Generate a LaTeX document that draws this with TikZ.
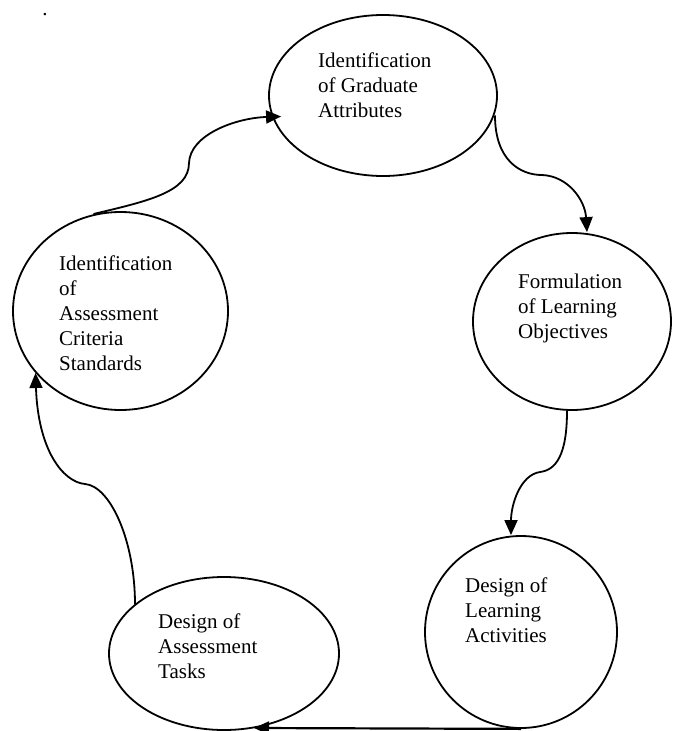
\documentclass[tikz,border=0pt]{standalone}
\usepackage{fontspec}
\setmainfont{Liberation Serif}
\usetikzlibrary{arrows.meta,shapes.geometric}
\begin{document}
\begin{tikzpicture}[x=1pt,y=-1pt,
  stage/.style={draw, ellipse, line width=1.8pt, inner sep=0pt},
  stagetext/.style={anchor=north west, align=left, inner sep=0pt,
    font=\fontsize{21}{25}\selectfont},
  flow/.style={line width=1.8pt, -{Triangle[length=15pt,width=13pt]}}]
\useasboundingbox (0,0) rectangle (673,731);

% the five stages of the cycle
\node[stage, minimum width=228pt, minimum height=161pt] (ga) at (383,95.5) {};
\node[stage, minimum width=215pt, minimum height=198pt] (ac) at (120.5,311) {};
\node[stage, minimum width=198pt, minimum height=177pt] (lo) at (572,321.5) {};
\node[stage, minimum width=192pt, minimum height=192pt] (la) at (521,632) {};
\node[stage, minimum width=230pt, minimum height=153pt] (at) at (224,653.5) {};

% their labels
\node[stagetext] (ga-t) at (318,52.8) {Identification\\of Graduate\\Attributes};
\node[stagetext] (ac-t) at (59,255.8) {Identification\\of\\Assessment\\Criteria\\Standards};
\node[stagetext] (lo-t) at (518,273.8) {Formulation\\of Learning\\Objectives};
\node[stagetext] (la-t) at (465,577.8) {Design of\\Learning\\Activities};
\node[stagetext] (at-t) at (158,613.8) {Design of\\Assessment\\Tasks};

\node[anchor=base, inner sep=0pt, font=\fontsize{21}{25}\selectfont] (dot) at (45,15) {.};

% connectors
\draw[flow] ([shift={(-27,-97)}]ac.center)
  .. controls (148,201) and (189,192) .. (189,163)
  .. controls (190,135) and (235,118) .. ([shift={(13,21)}]ga.west);
\draw[flow] ([shift={(112,20)}]ga.center)
  .. controls (495,160) and (520,175) .. (542,175)
  .. controls (568,176) and (585,200) .. ([xshift=15pt]lo.north);
\draw[flow] ([xshift=-5pt]lo.south)
  .. controls (567,455) and (556,470) .. (540,472)
  .. controls (520,475) and (511,505) .. ([xshift=-10pt]la.north);
\draw[flow, line width=2.2pt] (la.south) -- ([shift={(30,74.5)}]at.center);
\draw[flow] ([shift={(-89,-49)}]at.center)
  .. controls (135,540) and (110,486) .. (85,484)
  .. controls (63,482) and (38,450) .. ([shift={(-85,62)}]ac.center);
\end{tikzpicture}
\end{document}
